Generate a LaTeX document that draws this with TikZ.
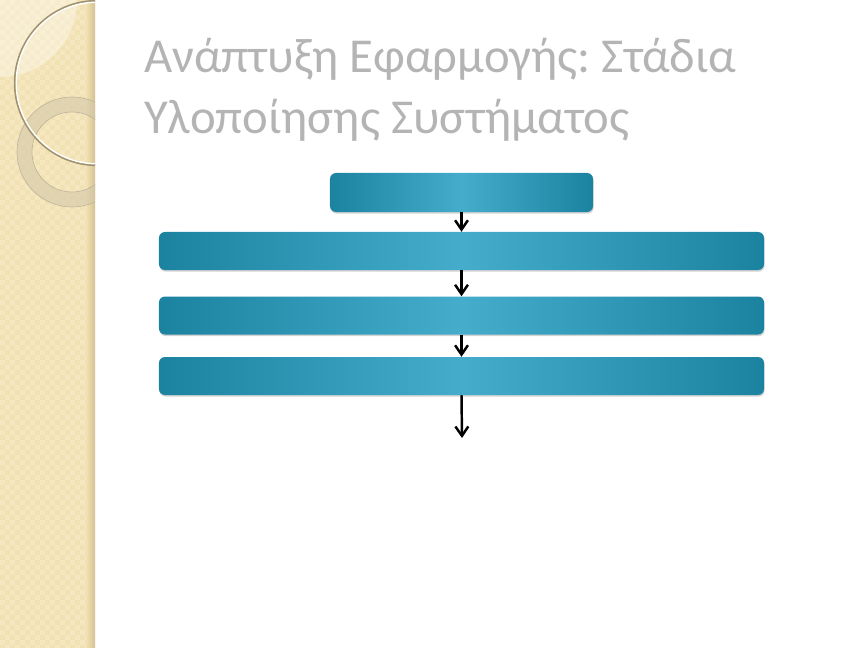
\documentclass[tikz,border=0pt]{standalone}
\usepackage{fontspec}
\newfontfamily\titlefont{Carlito}
\usetikzlibrary{arrows.meta}
\usetikzlibrary{shadows}
\usepackage{xcolor}

\definecolor{stripbase}{RGB}{242,225,178}
\definecolor{stripdot}{RGB}{245,231,192}
\definecolor{stripedge}{RGB}{212,194,148}
\definecolor{ringline}{RGB}{160,146,110}
\definecolor{ringfill}{RGB}{212,200,170}
\definecolor{boxedge}{RGB}{27,131,160}
\definecolor{boxmid}{RGB}{69,172,204}
\definecolor{titlegray}{RGB}{180,180,180}

\tikzset{
  stage/.style={rounded corners=0.18cm,left color=boxedge,right color=boxedge,middle color=boxmid,
    drop shadow={shadow xshift=0.02cm,shadow yshift=-0.05cm,opacity=0.35},
    inner sep=0pt,minimum width=18.15cm,minimum height=1.14cm},
  flow/.style={-{Straight Barb[length=8pt,width=11pt]},line width=2.1pt},
  heading/.style={anchor=base west,inner sep=0pt,text=titlegray,font=\titlefont\fontsize{41.6}{50}\selectfont}
}

\begin{document}
\frenchspacing
\begin{tikzpicture}[x=0.03cm,y=-0.03cm]
  \useasboundingbox (0,0) rectangle (864,648);

  % side strip
  \begin{scope}
    \clip (0,0) rectangle (95,648);
    \fill[stripbase] (0,0) rectangle (95,648);
    \foreach \j in {0,...,129}{
      \pgfmathsetmacro\off{mod(\j,2)*5}
      \foreach \i in {0,10,...,90}
        \fill[stripdot] (\i+\off,\j*5) rectangle ++(5,5);
    }
    \shade[left color=stripbase,right color=stripedge] (86,0) rectangle (95,648);
    % rings
    \fill[white,opacity=0.35] (0,0) circle (77);
    \fill[ringfill,opacity=0.6,even odd rule] (72,152) circle (55) (72,152) circle (40);
    \draw[ringline!70,line width=0.5pt] (72,152) circle (55) (72,152) circle (40);
    \draw[ringline,line width=2pt] (97,83) circle (82);
    \draw[white,line width=1.2pt] (97,83) circle (80.8);
  \end{scope}

  % title
  \node[heading] at (144,73) (titleA) {Ανάπτυξη Εφαρμογής: Στάδια};
  \node[heading] at (144,134) (titleB) {Υλοποίησης Συστήματος};

  % stages
  \node[stage,minimum width=7.89cm,minimum height=1.17cm] at (461.5,192.5) (plan){};
  \node[stage] at (461.5,251) (build){};
  \node[stage] at ([yshift=-1.935cm]build) (test){};
  \node[stage] at ([yshift=-1.815cm]test) (deploy){};
  \coordinate (out) at (462,438);

  \draw[flow] (plan.south) -- (build.north);
  \draw[flow] (build.south) -- (test.north);
  \draw[flow] (test.south) -- (deploy.north);
  \draw[flow] (deploy.south) -- (out);

\end{tikzpicture}
\end{document}
